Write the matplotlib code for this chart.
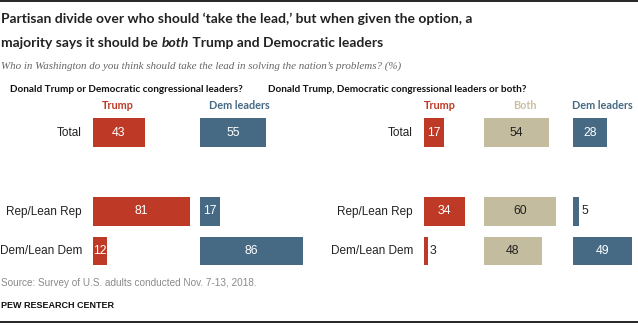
import matplotlib
matplotlib.use("Agg")
import matplotlib.pyplot as plt
from matplotlib.lines import Line2D

# ── Data ──
groups = ["Total", "Rep/Lean Rep", "Dem/Lean Dem"]
ypos = [0, 2, 3]

left_trump = [43, 81, 12]
left_dem = [55, 17, 86]

right_trump = [17, 34, 3]
right_both = [54, 60, 48]
right_dem = [28, 5, 49]

RED = "#BE3A26"
BLUE = "#466A84"
TAN = "#C3BC9E"
TAN_TXT = "#C9C0A0"

W, H = 638, 327
PX_PER_UNIT = 1.2

fig = plt.figure(figsize=(W / 100, H / 100), dpi=100)

def fx(px):
    return px / W

def fy(py):
    return 1 - py / H

HEAD = ["Lato", "DejaVu Sans"]
BODY = ["Liberation Sans", "DejaVu Sans"]

# ── Titles ──
fig.text(fx(1), fy(23), "Partisan divide over who should \u2018take the lead,\u2019 but when given the option, a",
         fontsize=10, fontweight="bold", family=HEAD, va="baseline", color="#222222")
# second title line with italic "both" - pieces laid out one after another
r = fig.canvas.get_renderer()
x = 1
for piece, style in [("majority says it should be ", "normal"), ("both", "italic"),
                     (" Trump and Democratic leaders", "normal")]:
    t = fig.text(fx(x), fy(47), piece, fontsize=10, fontweight="bold", style=style,
                 family=HEAD, va="baseline", color="#222222")
    x = t.get_window_extent(r).x1
fig.text(fx(1), fy(66), "Who in Washington do you think should take the lead in solving the nation\u2019s problems? (%)",
         fontsize=7.9, style="italic", family="Liberation Serif", va="center", color="#666666")

fig.text(fx(126), fy(89), "Donald Trump or Democratic congressional leaders?",
         fontsize=7.2, fontweight="bold", family=HEAD, ha="center", va="center", color="#111111")
fig.text(fx(397), fy(89), "Donald Trump, Democratic congressional leaders or both?",
         fontsize=7.2, fontweight="bold", family=HEAD, ha="center", va="center", color="#111111")

# ── Bar columns ──
# (left px, width px, values, colour, inside text colour, header, header colour, header x px, header ha)
columns = [
    (93, 100, left_trump, RED, "white", "Trump", RED, 118, "center"),
    (200, 110, left_dem, BLUE, "white", "Dem leaders", BLUE, 239, "center"),
    (424, 45, right_trump, RED, "white", "Trump", RED, 440, "center"),
    (484, 80, right_both, TAN, "#222222", "Both", TAN_TXT, 525, "center"),
    (573, 62, right_dem, BLUE, "white", "Dem leaders", BLUE, 572, "left"),
]

top_px, bot_px = 112.75, 270.75
for left, width, vals, col, tcol, head, hcol, hx, ha in columns:
    ax = fig.add_axes([fx(left), fy(bot_px), fx(width), (bot_px - top_px) / H])
    ax.barh(ypos, vals, height=0.73, color=col)
    ax.set_xlim(0, width / PX_PER_UNIT)
    ax.set_ylim(3.5, -0.5)
    ax.axis("off")
    for y, v in zip(ypos, vals):
        if v < 8:
            ax.text(v + 2, y, str(v), ha="left", va="center", fontsize=8.8, family=BODY, color="#222222")
        else:
            ax.text(v / 2, y, str(v), ha="center", va="center", fontsize=8.8, family=BODY, color=tcol)
    fig.text(fx(hx), fy(105), head, fontsize=7.8, fontweight="bold", family=HEAD,
             ha=ha, va="center", color=hcol)

# ── Row labels ──
for y_px, g in zip([132.5, 211.5, 251], groups):
    fig.text(fx(82), fy(y_px), g, ha="right", va="center", fontsize=8.5, family=BODY, color="#222222")
    fig.text(fx(413), fy(y_px), g, ha="right", va="center", fontsize=8.5, family=BODY, color="#222222")

# ── Footer ──
fig.text(fx(1), fy(283), "Source: Survey of U.S. adults conducted Nov. 7-13, 2018.",
         fontsize=7.2, family=BODY, color="#8a8a8a", va="center")
fig.text(fx(1), fy(305), "PEW RESEARCH CENTER", fontsize=6.5, fontweight="bold", family=BODY,
         color="#111111", va="center")
fig.add_artist(Line2D([0, 1], [fy(322), fy(322)], color="black", lw=1.2))
fig.add_artist(Line2D([0, 1], [fy(1), fy(1)], color="black", lw=1.2))

fig.savefig("out.png", dpi=100)
